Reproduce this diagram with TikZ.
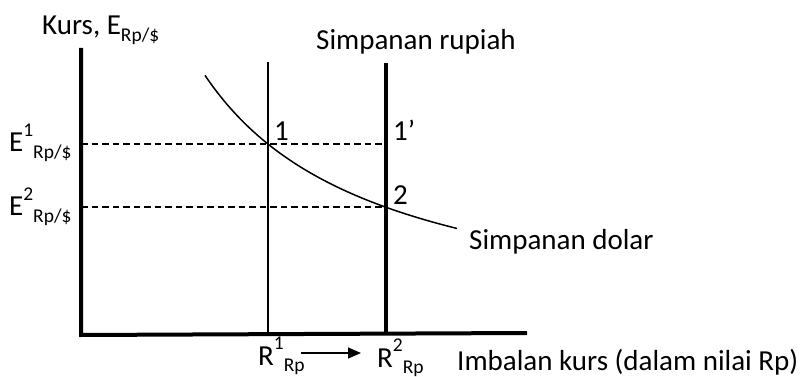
\documentclass[tikz,border=0pt]{standalone}
\usepackage{fontspec}
\setmainfont{Carlito}
\usetikzlibrary{arrows.meta}
\newcommand{\bigf}{\fontsize{29}{33}\selectfont}
\newcommand{\smallf}{\fontsize{19.5}{23}\selectfont}
\newcommand{\lowsub}[1]{\raisebox{-0.22em}{\smallf #1}}
\newcommand{\highsup}[1]{\raisebox{0.55em}{\smallf #1}}
\begin{document}
\begin{tikzpicture}[x=1pt,y=-1pt,
  txt/.style={anchor=base west,inner sep=0pt,font=\bigf},
  axis/.style={line width=4pt},
  thinv/.style={line width=1.3pt},
  thickv/.style={line width=3.2pt},
  dashline/.style={line width=1.3pt,dash pattern=on 6.5pt off 4pt},
  curve/.style={line width=1.5pt}]
\useasboundingbox (0,0) rectangle (804,377);
% axes
\coordinate (top) at (81,48);
\coordinate (orig) at (81,333);
\coordinate (xend) at (527,333);
\draw[axis] (top) -- ([yshift=-2pt]orig) -- (xend);
% verticals
\coordinate (r1top) at (268,62);
\coordinate (r1bot) at (268,333);
\coordinate (r2top) at (386,63);
\coordinate (r2bot) at (386,333);
\draw[thinv] (r1top) -- (r1bot);
\draw[thickv] (r2top) -- (r2bot);
% dashed
\coordinate (e1l) at (81,144);
\coordinate (e1r) at (386,144);
\coordinate (e2l) at (81,207);
\coordinate (e2r) at (386,207);
\draw[dashline] (e1l) -- (e1r);
\draw[dashline] (e2l) -- (e2r);
% curve
\draw[curve] plot[domain=205:457,samples=80] (\x,{334.8-454/((\x-30)/100)});
% labels
\node[txt] (kurs) at (42,35) {Kurs, E\lowsub{Rp/\$}};
\node[txt] (srup) at (316,50) {Simpanan rupiah};
\node[txt] (p1) at (274,141) {1};
\node[txt] (p1p) at (393,141) {1’};
\node[txt] (p2) at (393,205) {2};
\node[txt] (sdol) at (469,250) {Simpanan dolar};
\node[txt] (imb) at (457,370) {Imbalan kurs (dalam nilai Rp)};
\node[txt] (e1) at (9,152) {E\highsup{1}\lowsub{Rp/\$}};
\node[txt] (e2) at (9,216) {E\highsup{2}\lowsub{Rp/\$}};
\node[txt] (r1) at (258,365) {R\highsup{1}\lowsub{Rp}};
\node[txt] (r2) at (377,367) {R\highsup{2}\lowsub{Rp}};
\coordinate (as) at (301,353);
\coordinate (ae) at (361,353);
\draw[line width=1.3pt,-{Triangle[length=13pt,width=11pt]}] (as) -- (ae);
\end{tikzpicture}
\end{document}
